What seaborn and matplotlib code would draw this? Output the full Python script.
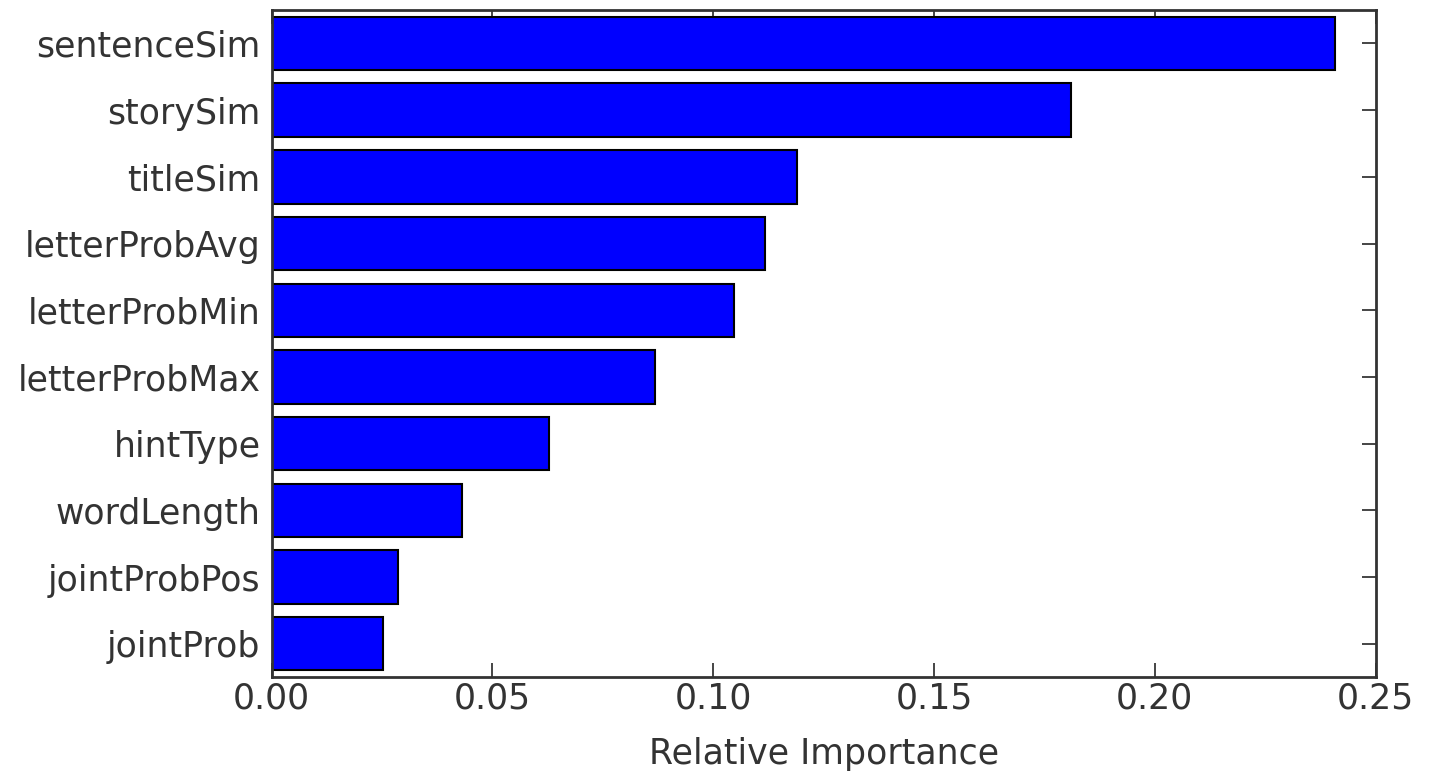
import matplotlib
matplotlib.use("Agg")
import matplotlib.pyplot as plt
import pandas as pd
import seaborn as sns

features = ['sentenceSim', 'storySim', 'titleSim', 'letterProbAvg', 'letterProbMin',
            'letterProbMax', 'hintType', 'wordLength', 'jointProbPos', 'jointProb']
importance = [0.2407, 0.181, 0.119, 0.1118, 0.1048, 0.0867, 0.0629, 0.043, 0.0287, 0.0253]

sns.set_style("white", {"xtick.direction": "in", "ytick.direction": "in"})
plt.rcParams['font.family'] = ['DejaVu Sans']

df = pd.DataFrame({'Feature': features, 'Relative Importance': importance})

fig, ax = plt.subplots()
fig.set_size_inches(14.3, 7.8)
sns.barplot(x='Relative Importance', y='Feature', data=df, orient='h',
            color='#0000ff', saturation=1, edgecolor='black', linewidth=1.5, width=0.8, ax=ax)
ax.set_xlim(0, 0.25)
ax.set_ylim(9.5, -0.5)
ax.set_ylabel('')
ax.set_xlabel('Relative Importance', fontsize=25, color='#333333', labelpad=16)
ax.set_xticks([0.0, 0.05, 0.10, 0.15, 0.20, 0.25])
ax.set_xticklabels(['0.00', '0.05', '0.10', '0.15', '0.20', '0.25'])
ax.tick_params(axis='both', labelsize=25, labelcolor='#333333', direction='in', length=10,
               width=1.2, top=True, right=True, bottom=True, left=True, pad=8)
ax.tick_params(axis='x', pad=3)
for s in ax.spines.values():
    s.set_color('#333333')
    s.set_linewidth(2)
fig.subplots_adjust(left=0.19, right=0.962, top=0.987, bottom=0.132)
plt.savefig('out.png', dpi=100)
plt.close(fig)
